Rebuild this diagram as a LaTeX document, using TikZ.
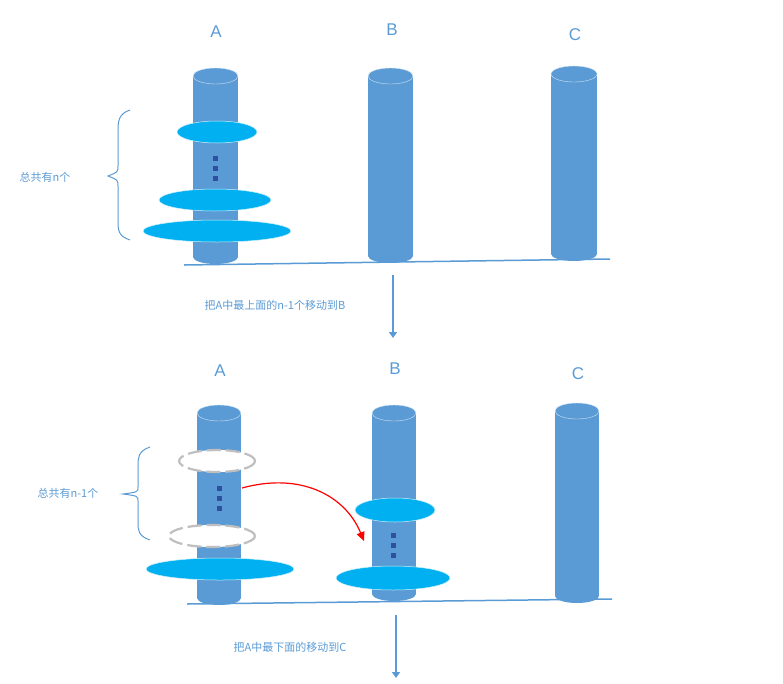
\documentclass[tikz,border=0pt]{standalone}
\usepackage{fontspec}
\setmainfont{Liberation Sans}
\newfontfamily\cjk{Noto Sans CJK SC}
\usetikzlibrary{arrows.meta,decorations.pathreplacing}
\definecolor{cyl}{HTML}{5B9BD5}
\definecolor{disk}{HTML}{00B0F0}
\definecolor{dotc}{HTML}{2F4F9F}
\definecolor{txt}{HTML}{5B9BD5}
\begin{document}
\begin{tikzpicture}[x=1pt,y=-1pt,
  lbl/.style={text=txt,font=\cjk\fontsize{11}{13}\selectfont},
  big/.style={text=txt,font=\fontsize{17}{20}\selectfont},
  dsk/.style={fill=disk,draw=white!80!disk,line width=0.5pt},
  ring/.style={fill=white,draw=black!25,line width=2.2pt,dash pattern=on 14pt off 5pt},
  gnd/.style={draw=cyl,line width=1.5pt},
  arr/.style={draw=cyl,line width=2pt,-{Triangle[length=6pt,width=8pt]}},
  brc/.style={draw=cyl,line width=1pt}]
\useasboundingbox (0,0) rectangle (783,683);
\newcommand\cylinder[4]{% x1 x2 ytop ybot
  \fill[cyl] (#1,#3) rectangle (#2,#4);
  \fill[cyl] ({(#1+#2)/2},#4) ellipse ({(#2-#1)/2} and 7);
  \filldraw[fill=cyl,draw=white!70!cyl] ({(#1+#2)/2},#3) ellipse ({(#2-#1)/2} and 8);}
\newcommand\vdotsq[2]{\foreach \k in {0,10,20}{\fill[dotc] (#1-2.5,#2+\k-2.5) rectangle ++(5,5);}}
% top
\cylinder{193}{238}{76}{257}
\cylinder{368}{413}{76}{256}
\cylinder{551}{597}{74}{254}
\draw[dsk] (217,132) ellipse (40 and 11);
\draw[dsk] (215,200) ellipse (56 and 11);
\draw[dsk] (217,231) ellipse (74 and 11);
\vdotsq{215}{158}
\coordinate (g1) at (184,265); \coordinate (g2) at (610,259);
\draw[gnd] (g1) -- (g2);
\node[big] (A1) at (216,32) {A};
\node[big] (B1) at (392,30) {B};
\node[big] (C1) at (575,35) {C};
\draw[brc] (130,110) .. controls (118,114) and (118,122) .. (118,132) -- (118,166) .. controls (118,172) .. (108,176) .. controls (118,180) .. (118,186) -- (118,220) .. controls (118,230) and (118,236) .. (130,240);
\node[lbl] (t1) at (45,177) {总共有n个};
\coordinate (a1s) at (393,275); \coordinate (a1e) at (393,338);
\draw[arr] (a1s) -- (a1e);
\node[lbl] (m1) at (275,305) {把A中最上面的n-1个移动到B};
% bottom
\cylinder{197}{241}{413}{598}
\cylinder{372}{416}{413}{594}
\cylinder{555}{599}{411}{596}
\draw[ring] (217,461) ellipse (38 and 11);
\draw[ring] (212,536) ellipse (43 and 11);
\draw[dsk] (220,569) ellipse (74 and 11);
\vdotsq{219}{488}
\draw[dsk] (395,510) ellipse (40 and 12);
\draw[dsk] (393,578) ellipse (57 and 12);
\vdotsq{393}{535}
\coordinate (g3) at (187,604); \coordinate (g4) at (612,599);
\draw[gnd] (g3) -- (g4);
\coordinate (r1) at (242,488); \coordinate (r2) at (364,541);
\draw[red,line width=1.2pt,-{Triangle[length=9pt,width=8pt]}] (r1) .. controls (300,472) and (345,495) .. (r2);
\node[big] (A2) at (220,371) {A};
\node[big] (B2) at (395,369) {B};
\node[big] (C2) at (578,374) {C};
\draw[brc] (150,447) .. controls (138,451) and (138,458) .. (138,466) -- (138,487) .. controls (138,492) .. (123,494) .. controls (138,496) .. (138,501) -- (138,522) .. controls (138,530) and (138,536) .. (150,540);
\node[lbl] (t2) at (68,493) {总共有n-1个};
\coordinate (a2s) at (396,615); \coordinate (a2e) at (396,678);
\draw[arr] (a2s) -- (a2e);
\node[lbl] (m2) at (290,647) {把A中最下面的移动到C};
\end{tikzpicture}
\end{document}
